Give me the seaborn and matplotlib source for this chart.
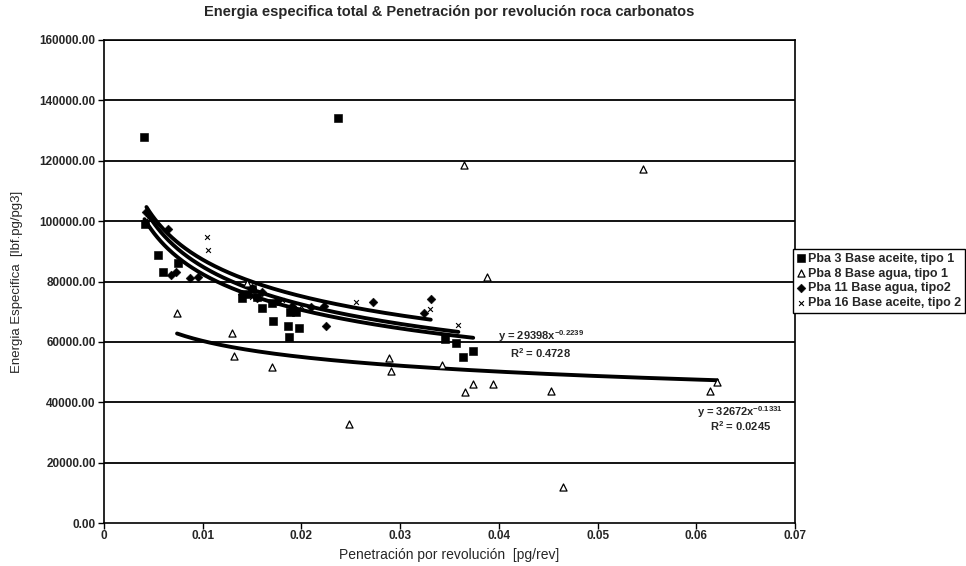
import numpy as np
import pandas as pd
import matplotlib
matplotlib.use("Agg")
import matplotlib.pyplot as plt
import seaborn as sns

# Penetration per revolution [pg/rev] and specific energy [lbf.pg/pg3] per test
pba3_x = [0.0041, 0.0042, 0.0055, 0.0060, 0.0075, 0.0140, 0.0145, 0.0150, 0.0155,
          0.0160, 0.0170, 0.0171, 0.0186, 0.0187, 0.0188, 0.0195, 0.0198, 0.0237,
          0.0345, 0.0357, 0.0364, 0.0374]
pba3_y = [127800, 99000, 88800, 83000, 86000, 74500, 76000, 77500, 75000,
          71200, 73000, 66900, 65300, 61600, 69900, 70000, 64600, 134300,
          61000, 59600, 55000, 57000]

pba8_x = [0.0074, 0.0130, 0.0132, 0.0145, 0.0170, 0.0248, 0.0289, 0.0291, 0.0342,
          0.0365, 0.0366, 0.0374, 0.0388, 0.0394, 0.0453, 0.0465, 0.0546, 0.0614,
          0.0621]
pba8_y = [69500, 63000, 55300, 79500, 51700, 32700, 54700, 50400, 52300,
          118600, 43400, 46000, 81500, 46000, 43700, 11900, 117300, 43700,
          46700]

pba11_x = [0.0043, 0.0065, 0.0068, 0.0073, 0.0087, 0.0095, 0.0140, 0.0150, 0.0155,
           0.0160, 0.0175, 0.0190, 0.0210, 0.0223, 0.0225, 0.0272, 0.0324, 0.0331]
pba11_y = [103000, 97400, 82200, 83000, 81000, 81500, 76000, 78000, 74500,
           76500, 73500, 72000, 71500, 72000, 65300, 73200, 69600, 74200]

pba16_x = [0.0045, 0.0104, 0.0105, 0.0150, 0.0180, 0.0200, 0.0255, 0.0330, 0.0359]
pba16_y = [101000, 94700, 90400, 75000, 74000, 72000, 73200, 71000, 65600]

series_names = ["Pba 3 Base aceite, tipo 1", "Pba 8 Base agua, tipo 1",
                "Pba 11 Base agua, tipo2", "Pba 16 Base aceite, tipo 2"]

# Power-law trend lines y = a * x^b
fit_a = [29398, 32672, 32260, 29480]
fit_b = [-0.2239, -0.1331, -0.216, -0.2297]
# (x of equation, x of R², baseline y of equation, baseline y of R², a, b, R²)
fit_labels = [(0.0399, 0.0411, 60500, 54800, "29398", "-0.2239", "0.4728"),
              (0.0601, 0.0614, 35600, 30400, "32672", "-0.1331", "0.0245")]

x_ticks = [0, 0.01, 0.02, 0.03, 0.04, 0.05, 0.06, 0.07]
y_ticks = [0, 20000, 40000, 60000, 80000, 100000, 120000, 140000, 160000]

sns.set_style("white")
plt.rcParams["font.family"] = ["Liberation Sans", "DejaVu Sans"]
plt.rcParams["mathtext.default"] = "regular"

fig = plt.figure(figsize=(9.66, 5.66), dpi=100)
ax = fig.add_axes([104 / 966, 1 - 523 / 566, (795 - 104) / 966, (523 - 40) / 566])

df = pd.concat([
    pd.DataFrame({"x": pba3_x, "y": pba3_y, "serie": series_names[0]}),
    pd.DataFrame({"x": pba8_x, "y": pba8_y, "serie": series_names[1]}),
    pd.DataFrame({"x": pba11_x, "y": pba11_y, "serie": series_names[2]}),
    pd.DataFrame({"x": pba16_x, "y": pba16_y, "serie": series_names[3]}),
], ignore_index=True)

# horizontal gridlines
for yv in y_ticks[1:]:
    ax.axhline(yv, color="black", lw=1.3, zorder=1)

# trend lines over each series' x range
for name, a, b in zip(series_names, fit_a, fit_b):
    sub = df[df["serie"] == name]
    xs = np.linspace(sub["x"].min(), sub["x"].max(), 200)
    sns.lineplot(x=xs, y=a * xs ** b, ax=ax, color="black", lw=2.8,
                 legend=False, zorder=3)

styles = [
    dict(marker="s", s=28, color="black", edgecolor="black"),
    dict(marker="^", s=26, facecolor="white", edgecolor="black", linewidth=0.9),
    dict(marker="D", s=20, color="black", edgecolor="black"),
    dict(marker="x", s=12, color="black", linewidth=0.8),
]
for name, st in zip(series_names, styles):
    sub = df[df["serie"] == name]
    sns.scatterplot(data=sub, x="x", y="y", ax=ax, label=name, zorder=4, **st)

# trend line equations
for xe, xr, ye, yr, a_txt, b_txt, r2 in fit_labels:
    ax.text(xe, ye, f"y = {a_txt}x$^{{{b_txt}}}$", fontsize=8, fontweight="bold",
            ha="left", va="baseline", zorder=5)
    ax.text(xr, yr, f"R$^2$ = {r2}", fontsize=8, fontweight="bold",
            ha="left", va="baseline", zorder=5)

ax.set_xlim(0, 0.07)
ax.set_ylim(0, 160000)
ax.set_xticks(x_ticks)
ax.set_xticklabels(["0", "0.01", "0.02", "0.03", "0.04", "0.05", "0.06", "0.07"],
                   fontsize=8.5, fontweight="bold")
ax.set_yticks(y_ticks)
ax.set_yticklabels([f"{v:.2f}" for v in y_ticks], fontsize=8.5, fontweight="bold")
ax.tick_params(axis="both", direction="out", length=4, width=1, color="black",
               left=True, bottom=True, pad=2)
ax.tick_params(axis="x", pad=1)
for sp in ax.spines.values():
    sp.set_color("black")
    sp.set_linewidth(1.2)

ax.set_xlabel("Penetración por revolución  [pg/rev]", fontsize=10, labelpad=4)
ax.set_ylabel("Energia Especifica  [lbf.pg/pg3]", fontsize=9.5, labelpad=12)
ax.set_title("Energia especifica total & Penetración por revolución roca carbonatos",
             fontsize=10.5, fontweight="bold", pad=17)

leg = ax.legend(loc="upper left", bbox_to_anchor=(793 / 966, 1 - 249 / 566),
                bbox_transform=fig.transFigure, frameon=True, fancybox=False,
                edgecolor="black", framealpha=1, borderpad=0.3, labelspacing=0.22,
                handlelength=0.6, handletextpad=0.3, borderaxespad=0,
                prop={"size": 9, "weight": "bold"})
leg.get_frame().set_linewidth(1.0)

fig.savefig("out.png", dpi=100, facecolor="white")
